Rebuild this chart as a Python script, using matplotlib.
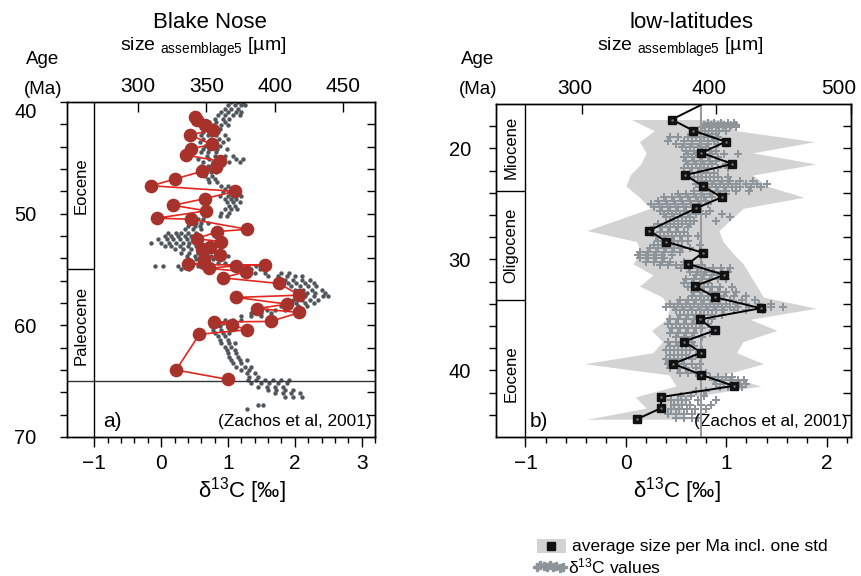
import numpy as np
import matplotlib.pyplot as plt
from matplotlib.lines import Line2D
from matplotlib.patches import Rectangle
from matplotlib.transforms import ScaledTranslation

plt.rcParams['font.family'] = ['Liberation Sans', 'DejaVu Sans']
plt.rcParams['mathtext.fontset'] = 'custom'
plt.rcParams['mathtext.rm'] = 'Liberation Sans'
plt.rcParams['mathtext.it'] = 'Liberation Sans:italic'
plt.rcParams['mathtext.bf'] = 'Liberation Sans:bold'

# ----------------------------
# Blake Nose (panel a)
# ----------------------------

# mean test size of assemblage per sample
blake_age = [41.3, 41.65, 42.1, 42.5, 42.95, 43.8, 44.2, 44.75, 45.3, 45.85,
             46.2, 46.9, 47.5, 48.0, 48.65, 49.25, 49.75, 50.4, 50.5, 51.4,
             51.6, 52.25, 52.5, 53.0, 53.2, 53.7, 54.1, 54.4, 54.55, 54.6,
             54.65, 54.9, 55.2, 55.75, 56.25, 57.3, 57.5, 58.1, 58.5, 58.85,
             59.65, 59.7, 60.0, 60.4, 60.8, 64.0, 64.85]
blake_size = [342, 343, 349, 355, 338, 354, 339, 335, 360, 357,
              347, 327, 310, 371, 349, 326, 350, 314, 339, 380,
              358, 343, 361, 353, 347, 360, 348, 348, 337, 393,
              372, 352, 379, 362, 403, 418, 372, 409, 387, 418,
              397, 356, 369, 380, 345, 328, 366]

# d13C record (Zachos et al, 2001): (age, values at that age)
blake_c13_eocene = [
    (40.0, [1.05, 1.15, 1.22]), (40.3, [1.00, 1.10, 1.20, 1.25]),
    (40.6, [0.95, 1.05, 1.15]), (40.9, [0.90, 1.00, 1.12, 1.20]),
    (41.2, [0.85, 0.95, 1.08, 1.18]), (41.5, [0.80, 0.92, 1.02]),
    (41.8, [0.72, 0.82, 0.95]), (42.1, [0.68, 0.78, 0.90, 1.00]),
    (42.4, [0.65, 0.75, 0.88]), (42.7, [0.62, 0.72, 0.85]),
    (43.0, [0.60, 0.70, 0.82, 0.95]), (43.3, [0.62, 0.74, 0.86, 1.00]),
    (43.6, [0.58, 0.70, 0.80, 0.92]), (43.9, [0.65, 0.76, 0.88]),
    (44.2, [0.62, 0.72, 0.84, 0.98]), (44.5, [0.60, 0.70, 0.82]),
    (44.8, [0.68, 0.80, 0.95, 1.08]), (45.1, [0.55, 0.72, 0.92, 1.12, 1.22]),
    (45.4, [0.62, 0.78, 1.02, 1.18]), (45.7, [0.60, 0.70, 0.80]),
    (46.0, [0.62, 0.72]), (46.3, [0.64, 0.74, 0.82]),
    (46.6, [0.66, 0.76]), (46.9, [0.70, 0.80]),
    (47.2, [0.72, 0.84]), (47.5, [0.90, 1.00]),
    (47.8, [0.95, 1.05, 1.12]), (48.1, [0.92, 1.02, 1.15]),
    (48.4, [0.88, 1.00, 1.08, 1.20]), (48.7, [0.95, 1.05, 1.12]),
    (49.0, [0.98, 1.08, 1.18]), (49.3, [1.02, 1.10]),
    (49.6, [0.95, 1.05, 1.14]), (49.9, [0.90, 1.02]),
    (50.2, [0.88, 0.98]), (50.5, [0.45, 0.55, 0.62]),
    (50.8, [0.42, 0.52, 0.60, 0.70]), (51.1, [0.40, 0.50, 0.58]),
    (51.4, [0.35, 0.48, 0.60]), (51.7, [0.10, 0.22, 0.30, 0.40, 0.52]),
    (52.0, [0.05, 0.15, 0.25, 0.35, 0.45, 0.58]),
    (52.3, [-0.05, 0.08, 0.18, 0.28, 0.38, 0.50]),
    (52.6, [-0.15, 0.00, 0.12, 0.22, 0.32, 0.42, 0.55]),
    (52.9, [0.05, 0.15, 0.28, 0.40, 0.52]), (53.2, [0.20, 0.32, 0.45, 0.58]),
    (53.5, [0.30, 0.42, 0.55, 0.68]),
    (53.8, [0.38, 0.50, 0.62, 0.75, 0.88, 1.00]),
    (54.1, [0.40, 0.52, 0.65, 0.78, 0.90]),
    (54.4, [0.35, 0.48, 0.60, 0.72, 0.85, 0.95]),
    (54.7, [-0.10, 0.02, 0.25, 0.35, 0.45, 0.55, 0.68, 1.30, 1.42, 1.55]),
]
blake_c13_paleocene = [
    (55.0, [0.30, 0.42, 1.20, 1.35, 1.48]),
    (55.3, [1.25, 1.40, 1.55, 1.80, 1.92]),
    (55.6, [1.60, 1.75, 1.88, 2.00, 2.10]), (55.9, [1.85, 1.98, 2.10, 2.22]),
    (56.2, [1.90, 2.02, 2.15, 2.28]), (56.5, [1.95, 2.08, 2.20, 2.32]),
    (56.8, [2.00, 2.12, 2.25, 2.40]), (57.1, [2.05, 2.18, 2.30, 2.45]),
    (57.4, [2.02, 2.15, 2.28, 2.42, 2.50]), (57.7, [1.98, 2.10, 2.22, 2.35]),
    (58.0, [1.90, 2.02, 2.15, 2.28]), (58.3, [1.80, 1.92, 2.05, 2.18]),
    (58.6, [1.45, 1.58, 1.70, 1.85, 2.00]), (58.9, [1.35, 1.50, 1.65]),
    (59.2, [1.20, 1.35, 1.50]), (59.5, [0.95, 1.08, 1.20]),
    (59.8, [0.80, 0.92, 1.05]), (60.1, [0.75, 0.88, 1.00]),
    (60.4, [0.78, 0.90]), (60.7, [0.80, 0.92, 1.02]),
    (61.0, [0.85, 0.95]), (61.3, [0.88, 1.00]),
    (61.6, [0.90, 1.02, 1.10]), (61.9, [0.95, 1.05]),
    (62.2, [0.98, 1.10]), (62.5, [1.00, 1.12]),
    (62.8, [1.02, 1.15]), (63.1, [1.05, 1.18, 1.28]),
    (63.4, [1.08, 1.20]), (63.7, [1.12, 1.25, 1.35]),
    (64.0, [1.20, 1.32]), (64.3, [1.28, 1.40]),
    (64.6, [1.32, 1.45]), (64.9, [1.30, 1.42, 1.55, 1.68, 1.80, 1.92]),
    (65.2, [1.35, 1.50, 1.62, 1.75, 1.88]), (65.5, [1.45, 1.58, 1.70, 1.82]),
    (65.8, [1.60, 1.72, 1.85, 1.98]), (66.1, [1.70, 1.82, 1.95, 2.08]),
    (66.4, [1.85, 1.98, 2.10]), (67.1, [1.45, 1.52]),
    (67.5, [1.28]),
]

# ----------------------------
# low-latitudes (panel b)
# ----------------------------

lowlat_age = [15.4, 17.4, 18.4, 19.4, 20.4, 21.4, 22.4, 23.4, 24.4, 25.4,
              27.4, 28.4, 29.4, 30.4, 31.4, 32.4, 33.4, 34.4, 35.4, 36.4,
              37.4, 38.4, 39.4, 40.4, 41.4, 42.4, 43.4, 44.4]
lowlat_size = [400, 367, 383, 407, 389, 412, 377, 390, 404, 385,
               350, 363, 390, 379, 406, 384, 399, 433, 388, 399,
               376, 389, 368, 389, 413, 359, 359, 341]

# one std envelope (from 17.4 Ma down)
lowlat_std_lo = [337, 354, 343, 348, 344, 336, 333, 343, 351, 304,
                 341, 344, 338, 353, 343, 360, 365, 363, 352, 360,
                 353, 302, 365, 370, 340, 348, 304]
lowlat_std_hi = [405, 415, 473, 427, 474, 427, 438, 465, 420, 402,
                 405, 412, 420, 425, 430, 435, 474, 425, 445, 420,
                 415, 435, 405, 433, 380, 373, 378]
lowlat_mean_size = 389

lowlat_c13_miocene = [
    (17.7, [0.82, 0.88, 0.95, 1.02, 1.08]),
    (17.9, [0.78, 0.85, 0.92, 0.98, 1.05, 1.10]),
    (18.1, [0.76, 0.83, 0.90, 0.97, 1.04, 1.10]),
    (18.4, [0.72, 0.79, 0.86, 0.93, 1.00]),
    (18.7, [0.68, 0.75, 0.82, 0.90]),
    (19.0, [0.44, 0.52, 0.62, 0.70, 0.78, 0.86, 0.92]),
    (19.3, [0.42, 0.58, 0.66, 0.74, 0.82, 0.88]),
    (19.6, [0.50, 0.58, 0.66, 0.74, 0.82, 0.92]),
    (19.9, [0.56, 0.64, 0.72, 0.80]),
    (20.2, [0.60, 0.68, 0.76, 0.84, 0.90]),
    (20.5, [0.62, 0.70, 0.78, 0.86, 0.98, 1.12]),
    (20.8, [0.58, 0.66, 0.74, 0.82, 0.92]),
    (21.1, [0.60, 0.68, 0.76, 0.84, 0.90]),
    (21.4, [0.62, 0.70, 0.78, 0.86, 1.00]),
    (21.8, [0.58, 0.66, 0.74, 0.82, 0.92, 1.02]),
    (22.2, [0.64, 0.72, 0.80, 0.88]),
    (22.6, [0.68, 0.76, 0.84, 0.92, 1.02]),
    (22.9, [0.72, 0.80, 0.88, 0.96, 1.04, 1.14, 1.26]),
    (23.2, [0.70, 0.78, 0.86, 0.94, 1.02, 1.10, 1.20, 1.30, 1.40]),
    (23.5, [0.74, 0.82, 0.90, 0.98, 1.06, 1.14, 1.24, 1.34]),
    (23.8, [0.68, 0.76, 0.84, 0.92, 1.00, 1.10, 1.22]),
]
lowlat_c13_oligocene = [
    (24.1, [0.52, 0.60, 0.68, 0.76, 0.84, 0.94, 1.00]),
    (24.4, [0.38, 0.46, 0.54, 0.62, 0.70, 0.78, 0.86]),
    (24.7, [0.32, 0.40, 0.48, 0.56, 0.64, 0.72, 0.80]),
    (25.0, [0.25, 0.33, 0.41, 0.49, 0.57, 0.65, 0.73, 0.82]),
    (25.3, [0.28, 0.36, 0.44, 0.52, 0.60, 0.68]),
    (25.6, [0.34, 0.42, 0.50, 0.58, 0.66, 0.74, 0.84]),
    (25.9, [0.38, 0.46, 0.54, 0.62, 0.70, 0.80, 0.96]),
    (26.2, [0.40, 0.48, 0.56, 0.64, 1.04]),
    (26.5, [0.44, 0.52, 0.60, 0.68, 0.90]),
    (26.8, [0.32, 0.40, 0.48, 0.56, 0.64]),
    (27.1, [0.28, 0.36, 0.44, 0.52, 0.62]),
    (27.5, [0.34, 0.42, 0.50, 0.58]),
    (27.9, [0.30, 0.38, 0.46, 0.54, 0.62, 0.72]),
    (28.3, [0.32, 0.40, 0.48, 0.56, 0.62]),
    (28.7, [0.28, 0.36, 0.44, 0.52, 0.74]),
    (29.0, [0.24, 0.32, 0.40, 0.48, 0.56, 0.64]),
    (29.3, [0.14, 0.22, 0.30, 0.38, 0.46, 0.54]),
    (29.6, [0.12, 0.20, 0.28, 0.36, 0.46]),
    (29.9, [0.14, 0.22, 0.30, 0.38]),
    (30.2, [0.20, 0.28, 0.36, 0.44, 0.58]),
    (30.5, [0.34, 0.42, 0.50, 0.58, 0.66, 0.76]),
    (30.8, [0.55, 0.63, 0.71, 0.79, 0.87, 0.95, 1.04]),
    (31.1, [0.64, 0.72, 0.80, 0.88, 0.96, 1.02]),
    (31.4, [0.70, 0.78, 0.86, 0.94]),
    (31.8, [0.60, 0.68, 0.76, 0.84, 0.92, 1.00]),
    (32.1, [0.58, 0.66, 0.74, 0.82]),
    (32.5, [0.62, 0.70, 0.78, 0.86, 0.94, 1.06]),
    (32.9, [0.68, 0.76, 0.84, 0.92, 1.00, 1.10]),
    (33.3, [0.66, 0.74, 0.82, 0.90, 0.98, 1.08, 1.20]),
    (33.7, [0.54, 0.62, 0.70, 0.78, 0.86, 0.94, 1.04, 1.16, 1.28]),
]
lowlat_c13_eocene = [
    (34.0, [0.44, 0.52, 0.60, 0.68, 0.76, 0.84, 0.92, 1.00, 1.10, 1.20,
            1.32, 1.44]),
    (34.3, [0.40, 0.48, 0.56, 0.64, 0.72, 0.80, 0.88, 0.96, 1.04, 1.12,
            1.22, 1.32, 1.44, 1.56]),
    (34.6, [0.50, 0.58, 0.66, 0.74, 0.82, 0.90, 0.98, 1.08, 1.20, 1.36]),
    (35.0, [0.54, 0.62, 0.70, 0.78, 0.86, 0.96]),
    (35.4, [0.44, 0.52, 0.60, 0.68, 0.76, 0.86]),
    (35.8, [0.42, 0.50, 0.58, 0.66, 0.74, 0.82]),
    (36.2, [0.46, 0.54, 0.62, 0.70, 0.76]),
    (36.6, [0.44, 0.52, 0.60, 0.68, 0.84]),
    (37.0, [0.50, 0.58, 0.66, 0.76]),
    (37.4, [0.42, 0.50, 0.58, 0.66]),
    (37.8, [0.44, 0.52, 0.60, 0.68]),
    (38.2, [0.40, 0.48, 0.56, 0.64, 0.76]),
    (38.6, [0.44, 0.52, 0.60, 0.70]),
    (39.0, [0.40, 0.48, 0.56, 0.66]),
    (39.4, [0.42, 0.50, 0.58, 0.66, 0.74]),
    (39.8, [0.44, 0.52, 0.60, 0.70]),
    (40.2, [0.54, 0.62, 0.70, 0.80]),
    (40.6, [0.84, 0.92, 1.00, 1.06]),
    (40.9, [0.88, 0.96, 1.04, 1.12, 1.18]),
    (41.2, [0.90, 0.98, 1.06, 1.14, 1.20]),
    (41.5, [0.94, 1.02, 1.10, 1.16]),
    (41.9, [0.70, 0.80]),
    (42.3, [0.55, 0.65, 0.78]),
    (42.7, [0.45, 0.52, 0.60, 0.72, 0.90]),
    (43.1, [0.48, 0.56, 0.64, 0.75, 0.85]),
    (43.5, [0.45, 0.53, 0.61, 0.69, 0.80]),
    (43.9, [0.42, 0.50, 0.58, 0.66, 0.75]),
    (44.3, [0.50, 0.58, 0.66, 0.72]),
]


def flatten(*groups):
    ages, vals = [], []
    for rows in groups:
        for a, vs in rows:
            ages += [a] * len(vs)
            vals += vs
    return ages, vals


# ----------------------------
# Figure layout (pixel based)
# ----------------------------
W, H = 862, 576


def fx(px):
    return px / W


def fy(py):
    return 1 - py / H


fig = plt.figure(figsize=(W / 100, H / 100), dpi=100)

TICK_FS = 15
DOT_GREY = '#4f575c'
CROSS_GREY = '#8e959a'
BAND_GREY = '#d3d3d3'


def shift(label, dx_px, dy_px):
    label.set_transform(label.get_transform()
                        + ScaledTranslation(dx_px / 100, dy_px / 100,
                                            fig.dpi_scale_trans))


def style_panel(ax, axt, xmaj, ylab, yminor, ypad):
    ax.set_xticks(xmaj)
    ax.set_xticks(np.arange(xmaj[0], xmaj[-1] + 0.21, 0.2), minor=True)
    ax.tick_params(axis='x', which='major', direction='out', length=7,
                   width=1, labelsize=TICK_FS, pad=5, top=False)
    ax.tick_params(axis='x', which='minor', direction='out', length=4,
                   width=1, top=False)
    ax.set_yticks(ylab)
    ax.set_yticks(yminor, minor=True)
    ax.tick_params(axis='y', which='both', direction='out', length=5,
                   width=1, labelsize=14.5, pad=ypad, right=False)
    sec = ax.secondary_yaxis('right')
    sec.set_yticks(yminor)
    sec.tick_params(direction='in', length=6, width=1, labelright=False)
    axt.tick_params(axis='x', direction='in', length=7, width=1,
                    labelsize=TICK_FS, pad=4)
    for sp in list(ax.spines.values()) + list(axt.spines.values()):
        sp.set_linewidth(1)


# ---------------- panel a ----------------
ax1 = fig.add_axes([fx(67), fy(437), fx(375) - fx(67), fy(102) - fy(437)])
ax1.set_xlim(-1.41, 3.0)
ax1.set_ylim(70, 40)
ax1t = ax1.twiny()
ax1t.set_xlim(248.4, 473.1)
ax1t.set_ylim(70, 40)
ax1t.set_xticks([300, 350, 400, 450])

ba, bv = flatten(blake_c13_eocene, blake_c13_paleocene)
ax1.scatter(bv, ba, s=10, color=DOT_GREY, linewidths=0, zorder=2)

ax1t.plot(blake_size, blake_age, color='#e4261f', lw=1.2, zorder=3)
ax1t.plot(blake_size, blake_age, 'o', ms=8.8, color='#a6322b',
          mec='#a6322b', zorder=4)

# epoch column + K/Pg boundary
ax1.axvline(-1, color='k', lw=1)
ax1.hlines(55, -1.41, -1, color='k', lw=1)
ax1.axhline(65, color='#333333', lw=1)
ax1.text(-1.205, 47.5, 'Eocene', rotation=90, ha='center', va='center',
         fontsize=12)
ax1.text(-1.205, 60, 'Paleocene', rotation=90, ha='center', va='center',
         fontsize=12)
ax1.text(0.117, 0.045, 'a)', transform=ax1.transAxes, fontsize=15,
         ha='left', va='center')
ax1.text(0.99, 0.045, '(Zachos et al, 2001)', transform=ax1.transAxes,
         fontsize=12.4, ha='right', va='center')

style_panel(ax1, ax1t, [-1, 0, 1, 2, 3], [40, 50, 60, 70],
            list(range(42, 70, 2)), 17)
# the top age label sits a little below its tick
shift(ax1.get_yticklabels()[0], 0, -9)

# ---------------- panel b ----------------
ax2 = fig.add_axes([fx(496), fy(437), fx(851) - fx(496), fy(104) - fy(437)])
ax2.set_xlim(-1.293, 2.24)
ax2.set_ylim(46, 16)
ax2t = ax2.twiny()
ax2t.set_xlim(236.5, 500)
ax2t.set_ylim(46, 16)
ax2t.set_xticks([300, 400, 500])

# std band drawn in size units but underneath the d13C crosses
ax2.fill_betweenx(lowlat_age[1:], lowlat_std_lo, lowlat_std_hi,
                  color=BAND_GREY, lw=0, zorder=1,
                  transform=ax2t.transData)
la, lv = flatten(lowlat_c13_miocene, lowlat_c13_oligocene, lowlat_c13_eocene)
ax2.scatter(lv, la, s=36, marker='P', color=CROSS_GREY, linewidths=0,
            zorder=2)

ax2t.axvline(lowlat_mean_size, color='#9a9a9a', lw=1.5, zorder=1)
ax2t.plot(lowlat_size, lowlat_age, color='k', lw=1.4, zorder=3)
ax2t.plot(lowlat_size, lowlat_age, 's', ms=5.5, color='#111111', zorder=4)
ax2t.plot(lowlat_size, lowlat_age, '.', ms=1.5, color='#777777', zorder=5)

ax2.axvline(-1, color='k', lw=1)
ax2.hlines([23.8, 33.7], -1.293, -1, color='k', lw=1)
ax2.text(-1.147, 19.9, 'Miocene', rotation=90, ha='center', va='center',
         fontsize=12)
ax2.text(-1.147, 28.75, 'Oligocene', rotation=90, ha='center', va='center',
         fontsize=12)
ax2.text(-1.147, 40.3, 'Eocene', rotation=90, ha='center', va='center',
         fontsize=12)
ax2.text(0.096, 0.046, 'b)', transform=ax2.transAxes, fontsize=15,
         ha='left', va='center')
ax2.text(0.99, 0.046, '(Zachos et al, 2001)', transform=ax2.transAxes,
         fontsize=12.4, ha='right', va='center')

style_panel(ax2, ax2t, [-1, 0, 1, 2], [20, 30, 40],
            list(range(18, 46, 2)), 13)
# size labels of panel b sit left of their ticks
for lab, dx in zip(ax2t.get_xticklabels(), (-7, -7, -12)):
    shift(lab, dx, 0)

# ----------------------------
# Titles and axis labels
# ----------------------------
size_label = r'size $_{\rm assemblage5}$ [µm]'
fig.text(fx(210), fy(22), 'Blake Nose', fontsize=16, ha='center', va='center')
fig.text(fx(203), fy(47), size_label, fontsize=14, ha='center', va='center')
fig.text(fx(692), fy(22), 'low-latitudes', fontsize=16, ha='center',
         va='center')
fig.text(fx(680), fy(47), size_label, fontsize=14, ha='center', va='center')
for x0 in (43, 478):
    fig.text(fx(x0), fy(60), 'Age', fontsize=13.5, ha='center', va='center')
    fig.text(fx(x0), fy(90), '(Ma)', fontsize=13.5, ha='center', va='center')
fig.text(fx(242), fy(491), r'δ$^{13}$C [‰]', fontsize=16, ha='center',
         va='center')
fig.text(fx(677), fy(491), r'δ$^{13}$C [‰]', fontsize=16, ha='center',
         va='center')

# ----------------------------
# Legend (drawn by hand)
# ----------------------------
fig.add_artist(Rectangle((fx(537), fy(553)), fx(29), 14 / H,
                         transform=fig.transFigure, color=BAND_GREY, lw=0))
fig.add_artist(Line2D([fx(551.5)], [fy(546)], marker='s', ms=5.5,
                      color='#111111', ls='none', transform=fig.transFigure))
fig.text(fx(572), fy(546), 'average size per Ma incl. one std',
         fontsize=12.5, ha='left', va='center')
key_x = [fx(p) for p in np.linspace(537, 563, 9)]
key_y = [fy(566 + d) for d in (1, -1, 0, 1, -1, 1, 0, 2, 1)]
fig.add_artist(Line2D(key_x, key_y, marker='P', ms=5.5, color=CROSS_GREY,
                      mec=CROSS_GREY, ls='none', transform=fig.transFigure))
fig.text(fx(568), fy(566), r'δ$^{13}$C values', fontsize=12.5, ha='left',
         va='center')

fig.savefig('out.png', dpi=100)
